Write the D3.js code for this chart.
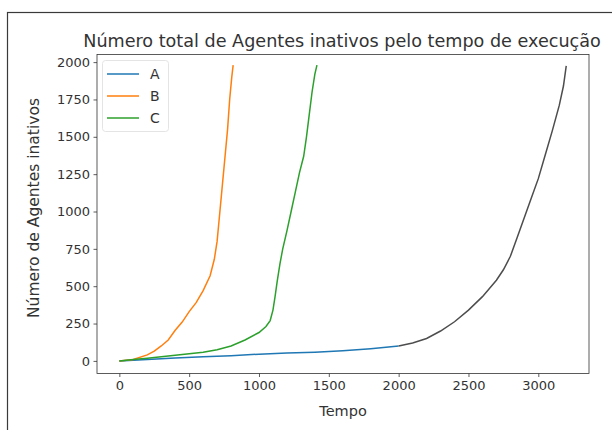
<!DOCTYPE html>
<html>
<head>
<meta charset="utf-8">
<script src="https://cdn.jsdelivr.net/npm/d3@7"></script>
<style>
  html, body { margin: 0; padding: 0; background: #fff; }
  svg { display: block; font-family: "DejaVu Sans", sans-serif; }
</style>
</head>
<body>
<svg id="chart" width="612" height="430"></svg>
<script>
// Inactive agents over execution time, three runs
const seriesNames = ["A", "B", "C"];
const seriesColors = ["#1f77b4", "#ff7f0e", "#2ca02c"];

const tempoA = [0, 200, 400, 600, 800, 1000, 1200, 1400, 1600, 1800, 2000, 2100, 2200, 2300, 2400, 2500, 2600, 2700, 2750, 2800, 2850, 2900, 2950, 3000, 3050, 3100, 3150, 3180, 3200];
const inativosA = [0, 10, 20, 28, 35, 45, 52, 58, 68, 82, 100, 120, 150, 200, 262, 340, 430, 540, 610, 700, 830, 960, 1090, 1220, 1380, 1540, 1710, 1840, 1975];

const tempoB = [0, 100, 200, 250, 300, 350, 400, 450, 500, 550, 600, 650, 680, 700, 715, 730, 745, 760, 775, 790, 805, 815];
const inativosB = [0, 10, 40, 65, 100, 140, 205, 260, 330, 390, 470, 570, 680, 800, 950, 1100, 1250, 1400, 1550, 1750, 1900, 1980];

const tempoC = [0, 100, 200, 300, 400, 500, 600, 700, 800, 900, 1000, 1050, 1080, 1100, 1115, 1130, 1150, 1170, 1200, 1230, 1260, 1290, 1320, 1340, 1360, 1380, 1400, 1415];
const inativosC = [0, 10, 18, 28, 38, 48, 58, 75, 100, 140, 190, 230, 270, 340, 430, 530, 650, 750, 870, 1000, 1130, 1260, 1370, 1500, 1650, 1800, 1920, 1980];

const xTicks = [0, 500, 1000, 1500, 2000, 2500, 3000];
const yTicks = [0, 250, 500, 750, 1000, 1250, 1500, 1750, 2000];

const svg = d3.select("#chart");
const plot = { left: 97, right: 589, top: 54.5, bottom: 373.5 };
const ink = "#333";

// figure frame
svg.append("rect")
  .attr("x", 7.5).attr("y", 12.5)
  .attr("width", 700).attr("height", 500)
  .attr("fill", "none").attr("stroke", "#3a3a3a").attr("stroke-width", 1.2);

const x = d3.scaleLinear().domain([-160, 3363]).range([plot.left, plot.right]);
const y = d3.scaleLinear().domain([-84.4, 2051]).range([plot.bottom, plot.top]);

// axes
const xAxis = svg.append("g")
  .attr("transform", `translate(0,${plot.bottom})`)
  .call(d3.axisBottom(x).tickValues(xTicks).tickSize(3.5).tickPadding(3.5).tickFormat(d3.format("d")));
const yAxis = svg.append("g")
  .attr("transform", `translate(${plot.left},0)`)
  .call(d3.axisLeft(y).tickValues(yTicks).tickSize(3.5).tickPadding(3.5).tickFormat(d3.format("d")));
[xAxis, yAxis].forEach(g => {
  g.select(".domain").remove();
  g.selectAll(".tick line").attr("stroke", ink).attr("stroke-width", 0.8);
  g.selectAll(".tick text").attr("fill", ink).attr("font-size", 13)
    .attr("font-family", "DejaVu Sans, sans-serif");
});

// spines
svg.append("rect")
  .attr("x", plot.left).attr("y", plot.top)
  .attr("width", plot.right - plot.left).attr("height", plot.bottom - plot.top)
  .attr("fill", "none").attr("stroke", ink).attr("stroke-width", 0.8);

const line = d3.line().x(d => x(d[0])).y(d => y(d[1]));
const pairs = (t, v) => t.map((d, i) => [d, v[i]]);

const dataA = pairs(tempoA, inativosA);
const dataB = pairs(tempoB, inativosB);
const dataC = pairs(tempoC, inativosC);

const lines = svg.append("g");
// run A: early stretch in its series colour, later stretch drawn darker
lines.append("path").datum(dataA.filter(d => d[0] <= 2000))
  .attr("d", line).attr("fill", "none").attr("stroke", seriesColors[0]).attr("stroke-width", 1.5);
lines.append("path").datum(dataA.filter(d => d[0] >= 2000))
  .attr("d", line).attr("fill", "none").attr("stroke", "#4d4d4d").attr("stroke-width", 1.5);
lines.append("path").datum(dataB)
  .attr("d", line).attr("fill", "none").attr("stroke", seriesColors[1]).attr("stroke-width", 1.5);
lines.append("path").datum(dataC)
  .attr("d", line).attr("fill", "none").attr("stroke", seriesColors[2]).attr("stroke-width", 1.5);

// title and axis labels
svg.append("text")
  .attr("x", 342).attr("y", 47)
  .attr("text-anchor", "middle").attr("font-size", 17.6).attr("fill", ink)
  .text("Número total de Agentes inativos pelo tempo de execução");
svg.append("text")
  .attr("x", 343).attr("y", 416)
  .attr("text-anchor", "middle").attr("font-size", 14.5).attr("fill", ink)
  .text("Tempo");
svg.append("text")
  .attr("transform", `translate(39,${(plot.top + plot.bottom) / 2 - 6}) rotate(-90)`)
  .attr("text-anchor", "middle").attr("font-size", 15.5).attr("fill", ink)
  .text("Número de Agentes inativos");

// legend
const legend = svg.append("g");
legend.append("rect")
  .attr("x", 102.5).attr("y", 60.5).attr("width", 66).attr("height", 71).attr("rx", 3)
  .attr("fill", "#fff").attr("fill-opacity", 0.8).attr("stroke", "#ddd").attr("stroke-width", 0.8);
seriesNames.forEach((name, i) => {
  const ly = 74 + i * 22;
  legend.append("line")
    .attr("x1", 107).attr("x2", 139).attr("y1", ly).attr("y2", ly)
    .attr("stroke", seriesColors[i]).attr("stroke-width", 1.5);
  legend.append("text")
    .attr("x", 150).attr("y", ly + 5).attr("font-size", 14).attr("fill", ink)
    .text(name);
});
</script>
</body>
</html>
